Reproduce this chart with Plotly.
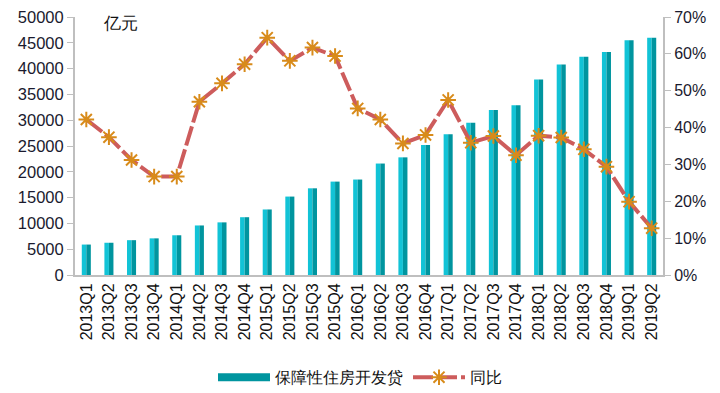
import plotly.graph_objects as go

quarters = ["2013Q1","2013Q2","2013Q3","2013Q4","2014Q1","2014Q2","2014Q3","2014Q4",
            "2015Q1","2015Q2","2015Q3","2015Q4","2016Q1","2016Q2","2016Q3","2016Q4",
            "2017Q1","2017Q2","2017Q3","2017Q4","2018Q1","2018Q2","2018Q3","2018Q4",
            "2019Q1","2019Q2"]
loans = [5900, 6250, 6750, 7100, 7700, 9600, 10200, 11200,
         12700, 15200, 16800, 18100, 18500, 21600, 22800, 25200,
         27300, 29500, 32000, 32900, 37900, 40800, 42300, 43200,
         45500, 46000]
yoy = [42.2, 37.4, 31.2, 26.7, 26.7, 47.0, 52.0, 57.2,
       64.4, 58.1, 61.7, 59.4, 45.2, 42.2, 35.7, 38.0,
       47.5, 35.9, 37.7, 32.5, 37.8, 37.3, 34.1, 29.4,
       19.9, 12.7]

cyan = "#12C3D6"
teal = "#00959F"
red = "#CD5C5C"
gold = "#D88B1A"
font = "Liberation Sans, Arial, sans-serif"

fig = go.Figure()
fig.add_trace(go.Bar(x=quarters, y=loans, marker=dict(color=cyan, line=dict(width=0)),
                     width=0.2, offset=-0.2, showlegend=False, yaxis="y"))
fig.add_trace(go.Bar(x=quarters, y=loans, marker=dict(color=teal, line=dict(width=0)),
                     width=0.2, offset=0.0, showlegend=False, yaxis="y"))
# legend proxy for bars
fig.add_trace(go.Scatter(x=[None], y=[None], mode="lines", name="保障性住房开发贷",
                         line=dict(color=teal, width=8)))
fig.add_trace(go.Scatter(x=quarters, y=yoy, mode="lines+markers", name="同比", yaxis="y2",
                         line=dict(color=red, width=4, dash="20px,4px"),
                         marker=dict(symbol="asterisk-open", size=13, color=gold,
                                     line=dict(color=gold, width=2))))

fig.update_layout(
    width=720, height=393,
    margin=dict(l=75, r=57, t=17, b=118, autoexpand=False),
    paper_bgcolor="white", plot_bgcolor="white",
    barmode="overlay",
    font=dict(family=font, size=16, color="#1a1a2e"),
    xaxis=dict(type="category", range=[-0.5, 25.5], tickangle=-90, automargin=False,
               showline=True, linecolor="#BFBFBF", linewidth=2, ticks="",
               tickfont=dict(size=16, color="#111")),
    yaxis=dict(range=[0, 50000], dtick=5000, tickformat="d", showgrid=False, zeroline=False,
               showline=True, linecolor="#BFBFBF", linewidth=2, ticks="outside",
               ticklen=6, tickcolor="#BFBFBF", tickfont=dict(size=16.5), automargin=False),
    yaxis2=dict(range=[0, 70], dtick=10, ticksuffix="%", overlaying="y", side="right",
                showgrid=False, zeroline=False, showline=True, linecolor="#BFBFBF",
                linewidth=2, ticks="outside", ticklen=6, tickcolor="#BFBFBF",
                tickfont=dict(size=16), automargin=False),
    legend=dict(orientation="h", x=0.5, xanchor="center", xref="container",
                y=0.04, yanchor="middle", yref="container",
                font=dict(size=16, color="#111"), itemwidth=52),
    annotations=[dict(text="亿元", xref="paper", yref="paper", x=0.045, y=1.02,
                      xanchor="left", yanchor="top", showarrow=False,
                      font=dict(size=17, color="#111"))],
)

fig.write_html("out.html", config={"displayModeBar": False},
               post_script="document.body.style.margin='0px';")
